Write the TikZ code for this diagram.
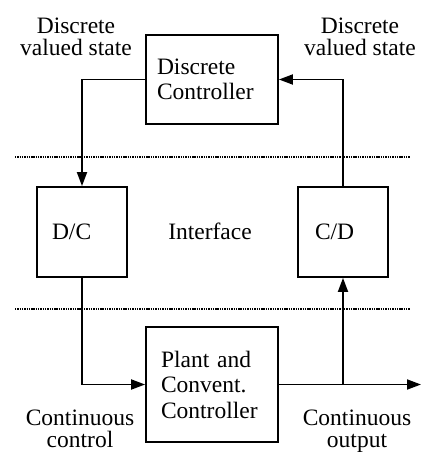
\documentclass[tikz,border=0pt]{standalone}
\usepackage{fontspec}
\setmainfont{Liberation Serif}
\usetikzlibrary{arrows.meta}
\begin{document}
\begin{tikzpicture}[x=1pt,y=-1pt,
  blk/.style={draw, line width=1.8pt, inner ysep=0pt, align=left,
    font=\fontsize{23.5}{25.5}\selectfont},
  lbl/.style={inner sep=0pt, align=center, font=\fontsize{23.5}{22}\selectfont},
  wire/.style={line width=1.8pt},
  arr/.style={wire, -{Triangle[length=14pt,width=10pt]}},
  sep/.style={line width=2.2pt, dash pattern=on 1.4pt off 0.9pt}]
\useasboundingbox (0,0) rectangle (422,452);
% separators
\coordinate (s1a) at (15,157);
\coordinate (s1b) at (410,157);
\coordinate (s2a) at (15,309);
\coordinate (s2b) at (410,309);
\draw[sep] (s1a) -- (s1b);
\draw[sep] (s2a) -- (s2b);
% blocks
\node[blk, minimum width=132pt, minimum height=89pt, text width=110pt, inner xsep=11pt] (dc) at (212,79.5) {Discrete\\Controller};
\node[blk, minimum width=90pt, minimum height=90pt, text width=60pt, inner xsep=15pt] (d2c) at (82,232) {D/C};
\node[blk, minimum width=90pt, minimum height=90pt, text width=56pt, inner xsep=17pt] (c2d) at (343,232) {C/D};
\node[blk, minimum width=132pt, minimum height=115pt, text width=102pt, inner xsep=15pt] (plant) at (212,384.5) {Plant and\\Convent.\\Controller};
\node[lbl] (iface) at (210,231) {Interface};
% labels
\node[lbl] (dvl) at (76,37) {Discrete\\valued state};
\node[lbl] (dvr) at (360,37) {Discrete\\valued state};
\node[lbl] (cc) at (80,428.5) {Continuous\\control};
\node[lbl] (co) at (357,431) {Continuous\\output};
% connectors
\coordinate (out) at (421,384.5);
\coordinate (junc) at (c2d.south |- plant.east);
\draw[arr] (dc.west) -| (d2c.north);
\draw[arr] (c2d.north) |- (dc.east);
\draw[arr] (d2c.south) |- (plant.west);
\draw[arr] (plant.east) -- (out);
\draw[arr] (junc) -- (c2d.south);
\end{tikzpicture}
\end{document}
